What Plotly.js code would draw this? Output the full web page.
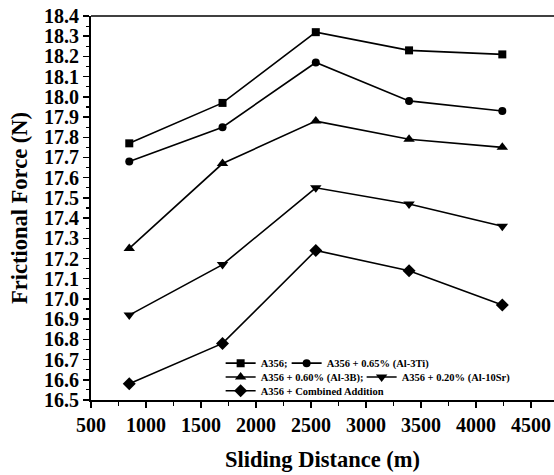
<!DOCTYPE html>
<html>
<head>
<meta charset="utf-8">
<script src="https://cdn.plot.ly/plotly-3.0.1.min.js"></script>
<style>html,body{margin:0;padding:0;background:#fff;}#chart{width:554px;height:475px;}</style>
</head>
<body>
<div id="chart"></div>
<script>
const distance = [848, 1696, 2544, 3392, 4240];
const a356 = [17.77, 17.97, 18.32, 18.23, 18.21];
const a356Ti = [17.68, 17.85, 18.17, 17.98, 17.93];
const a356B = [17.25, 17.67, 17.88, 17.79, 17.75];
const a356Sr = [16.92, 17.17, 17.55, 17.47, 17.36];
const a356Comb = [16.58, 16.78, 17.24, 17.14, 16.97];
const seriesNames = ["A356;", "A356 + 0.65% (Al-3Ti)", "A356 + 0.60% (Al-3B);", "A356 + 0.20% (Al-10Sr)", "A356 + Combined Addition"];

const FONT = "Liberation Serif, Times New Roman, serif";
function mk(y, name, symbol, size, legend, lw) {
  const t = {
    x: distance, y: y, name: name, type: "scatter", mode: "lines+markers",
    line: {color: "#000", width: 1.6},
    marker: {symbol: symbol, size: size, color: "#000"},
    legend: legend
  };
  if (lw) t.legendwidth = lw;
  return t;
}
const data = [
  mk(a356, seriesNames[0], "square", 8, "legend", 21),
  mk(a356Ti, seriesNames[1], "circle", 8, "legend"),
  mk(a356B, seriesNames[2], "triangle-up", 10, "legend2", 96),
  mk(a356Sr, seriesNames[3], "triangle-down", 10, "legend2"),
  mk(a356Comb, seriesNames[4], "diamond", 10, "legend3")
];
const legFont = {family: FONT, size: 10.5, color: "#000", weight: "bold"};
function leg(y) {
  return {orientation: "h", x: 0.28, y: y, xanchor: "left", yanchor: "middle",
    font: legFont, bgcolor: "rgba(0,0,0,0)", borderwidth: 0, itemsizing: "trace", traceorder: "normal", itemwidth: 30};
}
const layout = {
  width: 554, height: 475,
  margin: {l: 91, r: 0, t: 16, b: 75},
  paper_bgcolor: "#fff", plot_bgcolor: "#fff",
  showlegend: true,
  legend: leg(0.096),
  legend2: leg(0.06),
  legend3: leg(0.024),
  xaxis: {
    range: [500, 4710], tick0: 500, dtick: 500,
    showgrid: false, zeroline: false,
    showline: true, linecolor: "#000", linewidth: 2,
    ticks: "outside", ticklen: 6, tickwidth: 1.5, tickcolor: "#000",
    minor: {dtick: 250, ticks: "outside", ticklen: 4, tickwidth: 1.2, tickcolor: "#000", showgrid: false},
    tickfont: {family: FONT, size: 20, color: "#000", weight: "bold"},
    title: {text: "Sliding Distance (m)", font: {family: FONT, size: 22.5, color: "#000", weight: "bold"}, standoff: 16}
  },
  yaxis: {
    range: [16.5, 18.4], tick0: 16.5, dtick: 0.1, tickformat: ".1f",
    showgrid: false, zeroline: false,
    showline: true, linecolor: "#000", linewidth: 2,
    ticks: "outside", ticklen: 6, tickwidth: 1.5, tickcolor: "#000",
    minor: {dtick: 0.05, ticks: "outside", ticklen: 3, tickwidth: 1.2, tickcolor: "#000", showgrid: false},
    tickfont: {family: FONT, size: 20, color: "#000", weight: "bold"},
    title: {text: "Frictional Force (N)", font: {family: FONT, size: 22.5, color: "#000", weight: "bold"}, standoff: 10}
  },
  shapes: [{type: "line", xref: "paper", yref: "paper", x0: 0, x1: 1, y0: 1, y1: 1, line: {color: "#000", width: 1.3}}]
};
Plotly.newPlot("chart", data, layout, {displayModeBar: false, staticPlot: true});
</script>
</body>
</html>
